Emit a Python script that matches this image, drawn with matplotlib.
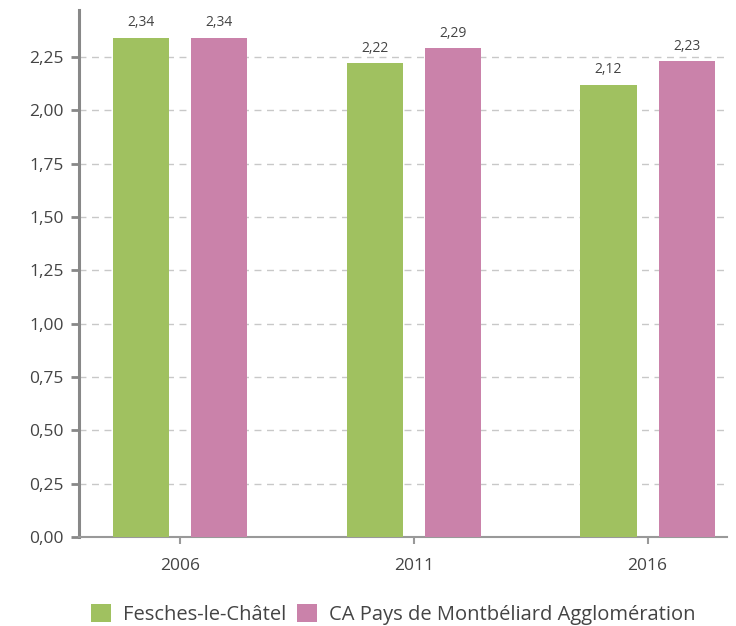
import matplotlib.pyplot as plt
import numpy as np

plt.rcParams['font.family'] = ['Open Sans', 'DejaVu Sans']

years = ['2006', '2011', '2016']
fesches = [2.34, 2.22, 2.12]
montbeliard = [2.34, 2.29, 2.23]
labels = ['Fesches-le-Châtel', 'CA Pays de Montbéliard Agglomération']
colors = ['#a0c160', '#ca82aa']

fig = plt.figure(figsize=(7.36, 6.26), dpi=100)
ax = fig.add_axes([0.1073, 0.1422, 0.8805, 0.8418])

x = np.arange(len(years))
w = 0.24
off = 0.167
b1 = ax.bar(x - off, fesches, w, color=colors[0], label=labels[0], zorder=3)
b2 = ax.bar(x + off, montbeliard, w, color=colors[1], label=labels[1], zorder=3)

for bars, vals in ((b1, fesches), (b2, montbeliard)):
    for r, v in zip(bars, vals):
        ax.text(r.get_x() + r.get_width() / 2, v + 0.035, ('%.2f' % v).replace('.', ','),
                ha='center', va='bottom', fontsize=10, color='#444444')

ax.set_xlim(-0.432, 2.34)
ax.set_ylim(0, 2.47)
yt = np.arange(0, 2.26, 0.25)
ax.set_yticks(yt)
ax.set_yticklabels([('%.2f' % t).replace('.', ',') for t in yt])
ax.set_xticks(x)
ax.set_xticklabels(years)
ax.grid(axis='y', color='#c8c8c8', linestyle=(0, (5, 4)), linewidth=1, zorder=0)

for s in ['top', 'right']:
    ax.spines[s].set_visible(False)
ax.spines['left'].set_color('#888888')
ax.spines['left'].set_linewidth(2.2)
ax.spines['bottom'].set_color('#999999')
ax.spines['bottom'].set_linewidth(1.5)
ax.tick_params(axis='y', length=6, width=2, color='#888888', labelsize=12.5, labelcolor='#444444', pad=5)
ax.tick_params(axis='x', length=5, width=1.5, color='#999999', labelsize=12.5, labelcolor='#444444', pad=10)

ax.legend(loc='upper center', bbox_to_anchor=(0.485, -0.093), ncol=2, frameon=False,
          fontsize=14.5, handlelength=1.0, handleheight=1.0, handletextpad=0.6,
          columnspacing=0.5, labelcolor='#444444')

fig.savefig('out.png', dpi=100)
